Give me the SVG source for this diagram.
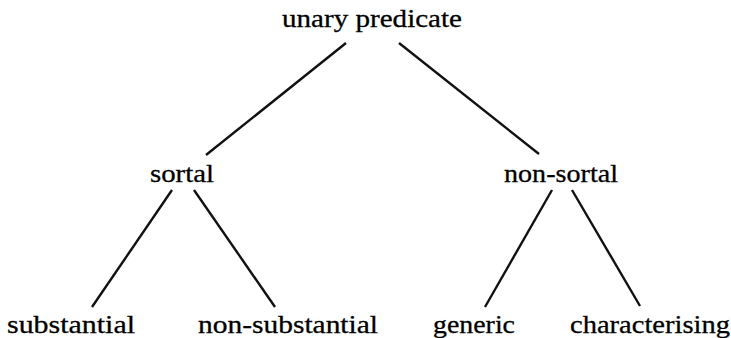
<svg xmlns="http://www.w3.org/2000/svg" width="731" height="338" viewBox="0 0 731 338">
<style>
.lbl{font-family:"Liberation Serif","Times New Roman",serif;font-size:26px;fill:#000;stroke:#000;stroke-width:0.3;text-anchor:middle}
.edge{stroke:#111;stroke-width:2.4;stroke-linecap:butt;fill:none}
</style>
<rect width="731" height="338" fill="#fff"/>
<g id="connectors">
<line class="edge" x1="346" y1="43" x2="206" y2="155"/>
<line class="edge" x1="399" y1="43" x2="539" y2="154"/>
<line class="edge" x1="172" y1="190" x2="92" y2="307"/>
<line class="edge" x1="194" y1="190" x2="275" y2="307"/>
<line class="edge" x1="552" y1="190" x2="485" y2="307"/>
<line class="edge" x1="572" y1="190" x2="640" y2="306"/>
</g>
<g id="n-unary"><text class="lbl" x="372" y="27" textLength="180" lengthAdjust="spacingAndGlyphs">unary predicate</text></g>
<g id="n-sortal"><text class="lbl" x="182" y="182" textLength="64" lengthAdjust="spacingAndGlyphs">sortal</text></g>
<g id="n-nonsortal"><text class="lbl" x="561" y="182" textLength="114" lengthAdjust="spacingAndGlyphs">non-sortal</text></g>
<g id="n-substantial"><text class="lbl" x="71" y="333" textLength="128" lengthAdjust="spacingAndGlyphs">substantial</text></g>
<g id="n-nonsubstantial"><text class="lbl" x="288" y="333" textLength="180" lengthAdjust="spacingAndGlyphs">non-substantial</text></g>
<g id="n-generic"><text class="lbl" x="474" y="333" textLength="82" lengthAdjust="spacingAndGlyphs">generic</text></g>
<g id="n-characterising"><text class="lbl" x="650" y="333" textLength="160" lengthAdjust="spacingAndGlyphs">characterising</text></g>
</svg>
